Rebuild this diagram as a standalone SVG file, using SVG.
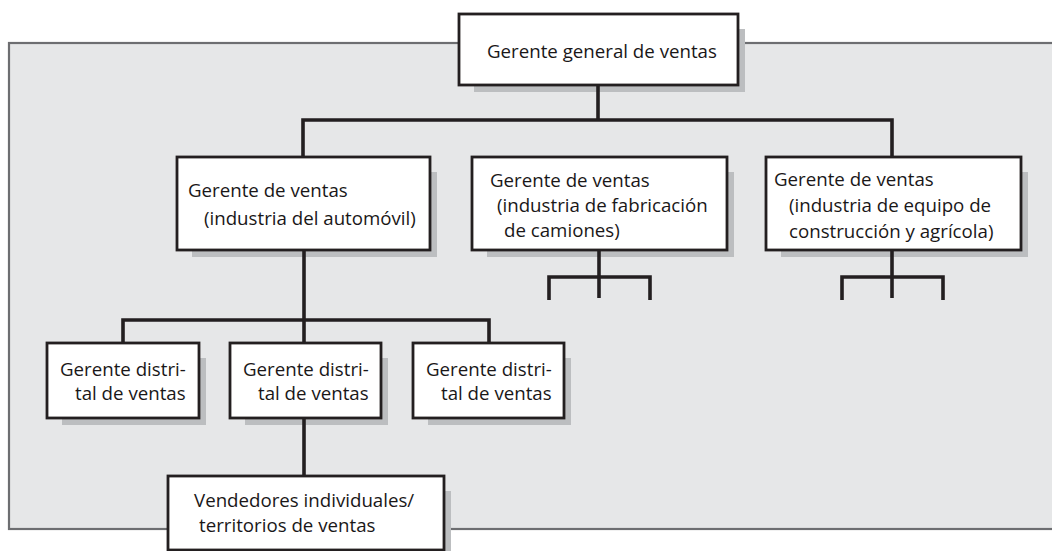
<svg xmlns="http://www.w3.org/2000/svg" width="1052" height="551" viewBox="0 0 1052 551">
<style>
.panel{fill:#e6e7e8;stroke:#6d6e71;stroke-width:2.2}
.box{fill:#fff;stroke:#231f20;stroke-width:2.8}
.sh{fill:#bcbec0}
.t{font-family:"Open Sans","Noto Sans",sans-serif;font-size:18.7px;fill:#1a1718}
.c{fill:none;stroke:#231f20;stroke-width:3.6}
</style>
<rect class="panel" x="9" y="43" width="1060" height="486"/>
<g id="n-top">
<rect class="sh" x="474" y="29" width="271" height="63"/>
<rect class="box" x="459" y="14" width="279" height="71"/>
<text class="t" x="487" y="58">Gerente general de ventas</text>
</g>
<g id="n-auto">
<rect class="sh" x="192" y="172" width="245" height="85"/>
<rect class="box" x="177" y="157" width="253" height="93"/>
<text class="t" x="188" y="197">Gerente de ventas</text>
<text class="t" x="204" y="225">(industria del automóvil)</text>
</g>
<g id="n-camiones">
<rect class="sh" x="487" y="172" width="247" height="85"/>
<rect class="box" x="472" y="157" width="255" height="93"/>
<text class="t" x="490" y="187">Gerente de ventas</text>
<text class="t" x="497" y="212">(industria de fabricación</text>
<text class="t" x="504" y="237">de camiones)</text>
</g>
<g id="n-construccion">
<rect class="sh" x="781" y="172" width="247" height="85"/>
<rect class="box" x="766" y="157" width="255" height="93"/>
<text class="t" x="774" y="186">Gerente de ventas</text>
<text class="t" x="789" y="212">(industria de equipo de</text>
<text class="t" x="789" y="238">construcción y agrícola)</text>
</g>
<g id="n-dist1">
<rect class="sh" x="62" y="358" width="144" height="67"/>
<rect class="box" x="47" y="343" width="152" height="75"/>
<text class="t" x="60" y="376">Gerente distri-</text>
<text class="t" x="75" y="400">tal de ventas</text>
</g>
<g id="n-dist2">
<rect class="sh" x="245" y="358" width="143" height="67"/>
<rect class="box" x="230" y="343" width="151" height="75"/>
<text class="t" x="243" y="376">Gerente distri-</text>
<text class="t" x="258" y="400">tal de ventas</text>
</g>
<g id="n-dist3">
<rect class="sh" x="428" y="358" width="143" height="67"/>
<rect class="box" x="413" y="343" width="151" height="75"/>
<text class="t" x="426" y="376">Gerente distri-</text>
<text class="t" x="441" y="400">tal de ventas</text>
</g>
<g id="n-vendedores">
<rect class="sh" x="183" y="491" width="268" height="66"/>
<rect class="box" x="168" y="476" width="276" height="74"/>
<text class="t" x="194" y="507">Vendedores individuales/</text>
<text class="t" x="199" y="532">territorios de ventas</text>
</g>
<g id="connectors">
<path class="c" d="M598 85.3V120"/>
<path class="c" d="M303 156V120H892V156"/>
<path class="c" d="M304 250V342"/>
<path class="c" d="M123 342V320H489V342"/>
<path class="c" d="M304 418V475"/>
<path class="c" d="M599 250V298"/>
<path class="c" d="M549 300V277H650V300"/>
<path class="c" d="M892 250V298"/>
<path class="c" d="M842 300V277H943V300"/>
</g>
</svg>
